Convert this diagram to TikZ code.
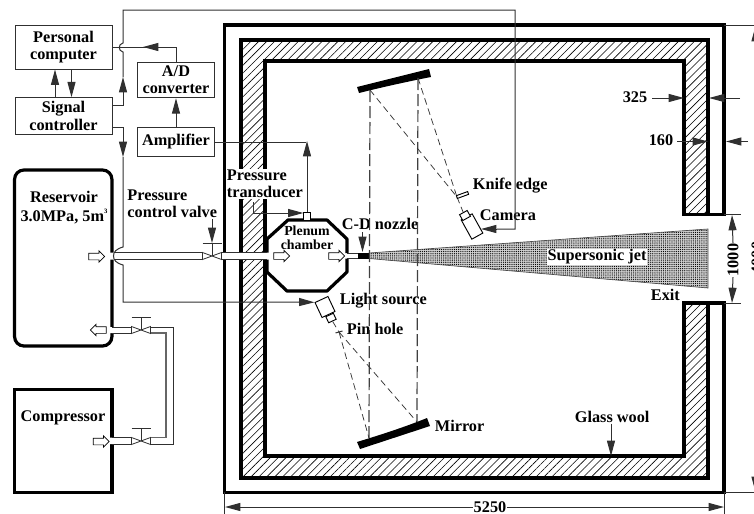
\documentclass[tikz,border=0pt]{standalone}
\usepackage{fontspec}
\setmainfont{Liberation Serif}
\usepackage{tikz}
\usetikzlibrary{arrows.meta,patterns.meta,shapes.arrows}
\definecolor{linegray}{HTML}{303030}
\newcommand{\lblfont}{\bfseries\fontsize{12.2}{13}\selectfont}
\tikzset{
  ctrlbox/.style={draw=linegray,line width=.75pt,align=center,inner sep=0pt,minimum width=72.75pt,font=\lblfont},
  tankbox/.style={draw=black,line width=2.4pt,inner sep=0pt,minimum width=73pt},
  txt/.style={font=\lblfont,inner sep=0.5pt,align=left},
  txtbg/.style={txt,fill=white},
  wallline/.style={draw=black,line width=2.4pt},
  sigline/.style={draw=linegray,line width=.75pt},
  sigflow/.style={sigline,-{Triangle[length=11.5pt,width=6pt]}},
  pipe/.style={draw=linegray,line width=.6pt},
  beam/.style={draw=black!80,line width=.55pt,dash pattern=on 5pt off 3pt},
  longbeam/.style={draw=black!75,line width=.9pt,dash pattern=on 9pt off 3pt},
  optic/.style={draw=black,fill=white,line width=.7pt,inner sep=0pt},
  flowarrow/.style={single arrow,draw=black,fill=white,line width=.55pt,inner sep=0pt,inner ysep=2.25pt,minimum height=12pt,minimum width=8pt,single arrow head extend=1.75pt},
  valve/.pic={
    \draw[pipe,fill=white] (-9.5,-3.5)--(9.5,3.5)--(9.5,-3.5)--(-9.5,3.5)--cycle;
    \draw[pipe] (0,0)--(0,-12.5) (-9.5,-12.5)--(9.5,-12.5);
  }
}
\begin{document}
\begin{tikzpicture}[x=.75pt,y=-.75pt]
  \path[use as bounding box] (0,0) rectangle (754,514);
  \clip (0,0) rectangle (754,514);
  % chamber walls
  \path[pattern={Lines[angle=45,distance=4.2pt,line width=.45pt]},wallline]
    (241,40)--(708,40)--(708,214.5)--(684,214.5)--(684,61)--(265,61)--(265,456)--(684,456)--(684,303)--(708,303)--(708,478)--(241,478)--cycle;
  \draw[wallline] (684,214.5)--(724,214.5)--(724,25)--(224.5,25)--(224.5,492.5)--(724,492.5)--(724,303)--(684,303);
  \fill[white] (221,252.5) rectangle (268,259.5);
  \node[txtbg,anchor=west] (transducerlbl) at (226,184) {Pressure\\transducer};
  \draw[wallline] (224.5,165)--(224.5,205);
  % jet
  \path[draw=black!70,line width=.5pt,preaction={fill=black!18},pattern={Dots[distance=1.6pt,radius=.48pt]}] (369,253)--(708,229)--(708,288)--(369,258.5)--cycle;
  \node[txtbg] (jetlbl) at (597,257) {Supersonic jet};
  % control boxes
  \node[ctrlbox,minimum height=33pt] (computer) at (63.5,47) {Personal\\computer};
  \node[ctrlbox,minimum height=27.4pt] (controller) at (63.5,116) {Signal\\controller};
  \node[ctrlbox,minimum width=57.75pt,minimum height=26.6pt] (converter) at (176,80) {A/D\\converter};
  \node[ctrlbox,minimum width=57.75pt,minimum height=21.4pt] (amplifier) at (176,142) {Amplifier};
  \node[tankbox,rounded corners=7pt,minimum height=132pt] (reservoir) at (63.25,258) {};
  \node[tankbox,minimum height=77.6pt] (compressor) at (63.25,441) {};
  \fill[white] (109,252.5) rectangle (115,259.5) (109,327) rectangle (115,333) (109,437.5) rectangle (115,444);
  \node[txt,align=center] (reservoirlbl) at (64,207.5) {Reservoir\\[1pt]3.0MPa, 5m\raisebox{1.1ex}{\fontsize{5}{5}\selectfont 3}};
  \node[txt] (compressorlbl) at (63,418) {Compressor};
  % plenum chamber
  \draw[wallline,line join=round] (347,253)--(347,239)--(327,220)--(288,220)--(267,239)--(267,252.5);
  \draw[wallline,line join=round] (267,259.5)--(267,272)--(287,291)--(327,291)--(347,272)--(347,258.5);
  \node[txt,align=center,font=\bfseries\fontsize{10.4}{10.8}\selectfont] (plenumlbl) at (307,238) {Plenum\\chamber};
  % pipes
  \coordinate (valvemain) at (212,256);
  \coordinate (valvetop) at (141,330);
  \coordinate (valvelow) at (141,441);
  \draw[pipe] (115,252.5)--(202.5,252.5) (115,259.5)--(202.5,259.5);
  \draw[pipe] (221.5,252.5)--(267,252.5) (221.5,259.5)--(267,259.5);
  \pic at (valvemain) {valve};
  \pic at (valvetop) {valve};
  \pic at (valvelow) {valve};
  \draw[pipe] (112,327)--(131.5,327) (112,333)--(131.5,333);
  \draw[pipe] (112,437.5)--(131.5,437.5) (112,444)--(131.5,444);
  \draw[pipe] (150.5,327)--(173.5,327)--(173.5,444)--(150.5,444);
  \draw[pipe,line width=.9pt,draw=black!60] (150.5,333)--(166,333)--(166,437.5)--(150.5,437.5);
  \draw[pipe,fill=white] (347,253)--(358,253) (347,258.5)--(358,258.5);
  \fill[black] (358,252.5) rectangle (369,258.5);
  \node[flowarrow] (flowa) at (95,256.5) {};
  \node[flowarrow] (flowb) at (280,256) {};
  \node[flowarrow] (flowc) at (335,256) {};
  \node[flowarrow,shape border rotate=180] (flowd) at (100,330) {};
  \node[flowarrow] (flowe) at (99.5,441.5) {};
  % labels crossed by the beams
  \node[txt,anchor=west] (valvelbl) at (126.5,203.5) {Pressure\\control valve};
  \node[txt,anchor=west] (nozzlelbl) at (341,224) {C-D nozzle};
  \node[txt,anchor=west] (lightlbl) at (339,301) {Light source};
  \node[txt,anchor=west] (pinlbl) at (346,329) {Pin hole};
  \node[txt,anchor=west] (knifelbl) at (472,186) {Knife edge};
  \node[txt,anchor=west] (cameralbl) at (479,215) {Camera};
  \node[txt,anchor=west] (mirrorlbl) at (434,426) {Mirror};
  \node[txt,anchor=west] (exitlbl) at (650,295) {Exit};
  \node[txt,anchor=west] (wool) at (574,417) {Glass wool};
  % optics
  \coordinate (pinhole) at (339,332);
  \coordinate (knife) at (457,197);
  \coordinate (upperl) at (370,90);
  \coordinate (upperr) at (418,78);
  \coordinate (lowerl) at (369,438);
  \coordinate (lowerr) at (417,422);
  \fill[black] (357,87)--(429,69)--(431,77) .. controls (408,81.5) and (383,87) .. (359,93)--cycle;
  \fill[black] (357,442)--(360,449)--(430,426)--(427,418) .. controls (405,427) and (380,435) .. (357,442)--cycle;
  \draw[longbeam] (upperl)--(lowerl);
  \draw[longbeam] (upperr)--(lowerr);
  \draw[beam] (upperl)--(knife);
  \draw[beam] (upperr)--(knife);
  \draw[beam] (pinhole)--(lowerl);
  \draw[beam] (pinhole)--(lowerr);
  \node[optic,rotate=25,minimum width=10.7pt,minimum height=12.4pt] (lamp) at (325,307) {};
  \node[optic,rotate=25,minimum width=6.2pt,minimum height=5pt] (lampneck) at (331,318) {};
  \draw[beam] (lampneck.south)--(pinhole);
  \draw[sigline] (335.5,333)--(342.5,331);
  \node[optic,rotate=29,minimum width=9.4pt,minimum height=16.5pt] (camera) at (472,226.5) {};
  \node[optic,rotate=29,minimum width=6.5pt,minimum height=5pt] (cameraneck) at (465,215.5) {};
  \draw[beam] (knife)--(cameraneck.north);
  \node[optic,rotate=20,minimum width=9pt,minimum height=2.2pt] (knifeblade) at (462.5,195) {};
  % signal lines
  \draw[sigflow] (controller.north -| 55,0)--(computer.south -| 55,0);
  \draw[sigflow] (computer.south -| 71.5,0)--(controller.north -| 71.5,0);
  \draw[sigflow] (amplifier.north)--(converter.south);
  \draw[sigline] (converter.north)--(176,47)--(143,47);
  \draw[sigflow] (176,47)--(143,47);
  \draw[sigline] (143,47)--(computer.east |- 0,47);
  \draw[sigflow] (controller.east |- 0,105)--(123,105)--(123,77);
  \draw[sigline] (123,77)--(123,52) .. controls (118,51) and (118,44) .. (123,43)--(123,10)--(515,10)--(515,229)--(497,229);
  \coordinate (cameratip) at (481,229);
  \draw[sigflow] (497,229)--(cameratip);
  \draw[sigflow] (controller.east |- 0,127)--(123,127)--(123,157);
  \draw[sigline] (123,157)--(123,247) .. controls (116,249) and (113.5,252) .. (113.5,256) .. controls (113.5,260) and (116,263) .. (123,265)--(123,302)--(298,302);
  \draw[sigflow] (298,302)--(lamp.north west);
  \draw[sigline] (amplifier.east)--(306,142);
  \node[optic,minimum width=4.7pt,minimum height=6pt] (sensor) at (307,216) {};
  \draw[sigflow] (sensor.north)--(307,141);
  \draw[sigflow] (253,202)--(253,213)--(sensor.west |- 0,213);
  \draw[sigflow] (valvemain |- 0,219)--(valvemain |- 0,243);
  \draw[sigflow] (362.5,232)--(362.5,252);
  \draw[sigflow] (wool.south -| 611,0)--(611,456);
  % dimensions
  \node[txt] (dimouter) at (635,97) {325};
  \draw[sigflow] (652,98)--(684,98);
  \draw[sigflow] (740,98)--(709,98);
  \node[txt] (diminner) at (661,140) {160};
  \draw[sigflow] (677,141.5)--(708,141.5);
  \draw[sigflow] (748,141.5)--(726,141.5);
  \node[txt,rotate=90] (dimexit) at (733,260) {1000};
  \draw[sigline] (724,214.5)--(741,214.5) (724,303)--(741,303);
  \draw[sigflow] (dimexit.east)--(732,215);
  \draw[sigflow] (dimexit.west)--(732,303);
  \node[txt,fill=white] (dimwidth) at (490,507) {5250};
  \draw[sigline] (224.5,492)--(224.5,514) (724,492)--(724,514);
  \draw[sigflow] (dimwidth.west)--(225,507);
  \draw[sigflow] (dimwidth.east)--(724,507);
  \node[txt,rotate=90] (dimheight) at (757,258) {4000};
  \draw[sigline] (724,25)--(754,25) (724,492.5)--(754,492.5);
  \draw[sigflow] (755.5,44)--(755.5,26);
  \draw[sigflow] (755.5,474)--(755.5,492);
\end{tikzpicture}
\end{document}
